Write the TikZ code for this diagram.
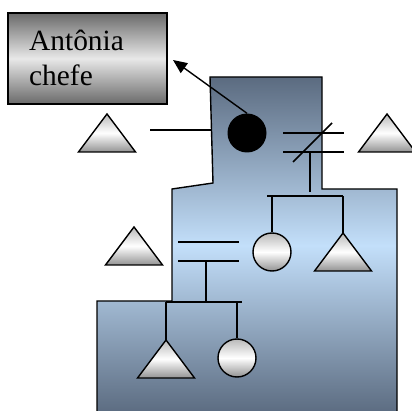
\documentclass[tikz,border=0pt]{standalone}
\usepackage{fontspec}
\setmainfont{Liberation Serif}
\usetikzlibrary{arrows.meta}
\definecolor{bgdark}{HTML}{5B6B80}
\definecolor{bglight}{HTML}{C3DFFA}
\definecolor{boxdark}{HTML}{6A6A6A}
\definecolor{boxlight}{HTML}{E8E8E8}
\begin{document}
\begin{tikzpicture}[x=1bp,y=1bp,
  ln/.style={line width=1.6bp,black},
  symshade/.style={draw=black,line width=1.4bp,top color=gray!55,bottom color=gray!85,middle color=white},
  person/.style={circle,minimum size=38bp,inner sep=0pt,symshade},
  tri/.pic={\shadedraw[symshade,line join=miter] (0,0) -- (-28.5,-38) -- (28.5,-38) -- cycle;
            \coordinate (-apex) at (0,0);}
]
\useasboundingbox (0,0) rectangle (412,411);
% background
\shadedraw[draw=black,line width=1.4bp,top color=bgdark,bottom color=bgdark,middle color=bglight]
  (210,334) -- (322,334) -- (322,222) -- (397,222) -- (397,-3) -- (97,-3) -- (97,110)
  -- (172,110) -- (172,222) -- (213,228) -- cycle;
% label box
\shadedraw[draw=black,line width=1.2bp,top color=boxdark,bottom color=boxdark,middle color=boxlight]
  (8,307) rectangle (167,398);
\node (lbl) at (87.5,352.5) [minimum width=159bp,minimum height=91bp,inner sep=0pt] {};
\node[anchor=base west,inner sep=0pt,font=\fontsize{29.5}{35}\selectfont] (t1) at (29,361) {Antônia};
\node[anchor=base west,inner sep=0pt,font=\fontsize{29.5}{35}\selectfont] (t2) at (29,326) {chefe};
% ego
\node[circle,fill=black,minimum size=39bp,inner sep=0pt] (ego) at (247,278) {};
\coordinate (tip) at (173,351);
\draw[line width=1.4bp,-{Triangle[length=14bp,width=12bp]}] (ego.north) -- (tip);
% left partner
\pic (tA) at (107,297) {tri};
\coordinate (la) at (150,281);
\coordinate (lb) at (211,281);
\draw[ln] (la) -- (lb);
% right divorced partner
\pic (tB) at (387,297) {tri};
\coordinate (r1a) at (283,278); \coordinate (r1b) at (344,278);
\coordinate (r2a) at (283,259); \coordinate (r2b) at (344,259);
\coordinate (sa) at (293,249); \coordinate (sb) at (332,288);
\coordinate (va) at (310,259); \coordinate (vb) at (310,219);
\draw[ln] (r1a) -- (r1b);
\draw[ln] (r2a) -- (r2b);
\draw[ln] (sa) -- (sb);
\draw[ln] (va) -- (vb);
% children of ego
\coordinate (sl) at (267,215); \coordinate (sr) at (343,215);
\coordinate (c1top) at (272,215);
\draw[ln] (sl) -- (sr);
\node[person] (c1) at (272,159) {};
\pic (tC) at (343,178) {tri};
\draw[ln] (c1top) -- (c1.north);
\draw[ln] (sr) -- (tC-apex);
% daughter's partner
\pic (tD) at (134,184) {tri};
\coordinate (m1a) at (178,169); \coordinate (m1b) at (239,169);
\coordinate (m2a) at (178,150); \coordinate (m2b) at (239,150);
\coordinate (mv) at (206,150); \coordinate (mvb) at (206,109);
\draw[ln] (m1a) -- (m1b);
\draw[ln] (m2a) -- (m2b);
\draw[ln] (mv) -- (mvb);
% grandchildren
\coordinate (bl) at (166,109); \coordinate (br) at (242,109);
\coordinate (g2top) at (237,109);
\draw[ln] (bl) -- (br);
\pic (tE) at (166,71) {tri};
\node[person] (g2) at (237,53) {};
\draw[ln] (bl) -- (tE-apex);
\draw[ln] (g2top) -- (g2.north);
\end{tikzpicture}
\end{document}
